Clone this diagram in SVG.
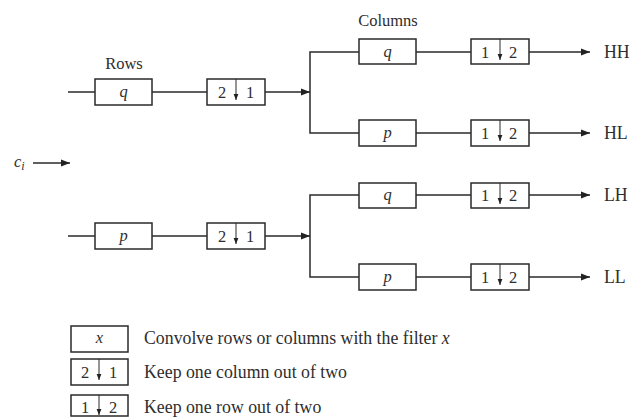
<svg xmlns="http://www.w3.org/2000/svg" width="640" height="417" viewBox="0 0 640 417">
<defs>
<marker id="ah" viewBox="0 0 10 10" refX="10" refY="5" markerWidth="9" markerHeight="9" markerUnits="userSpaceOnUse" orient="auto"><path d="M0,1 L10,5 L0,9 Z" fill="#222"/></marker>
<marker id="sa" viewBox="0 0 10 10" refX="10" refY="5" markerWidth="6" markerHeight="6" markerUnits="userSpaceOnUse" orient="auto"><path d="M0,1 L10,5 L0,9 Z" fill="#222"/></marker>
</defs>
<style>
.box{fill:#fff;stroke:#2a2a2a;stroke-width:1.5}
.ln{fill:none;stroke:#2a2a2a;stroke-width:1.5}
.dn{stroke:#2a2a2a;stroke-width:1}
text{font-family:"Liberation Serif","DejaVu Serif",serif;font-size:16.5px;fill:#2e2e2e}
.lg{font-size:17.8px}
.it{font-style:italic}
.c{text-anchor:middle}
</style>
<rect width="640" height="417" fill="#fff"/>
<text x="124" y="69" class="c">Rows</text>
<text x="388" y="26" class="c">Columns</text>
<g id="connectors">
<line class="ln" x1="68" y1="92" x2="95" y2="92"/>
<line class="ln" x1="152" y1="92" x2="207" y2="92"/>
<line class="ln" x1="265" y1="92" x2="310" y2="92" marker-end="url(#ah)"/>
<polyline class="ln" points="359,52 310,52 310,133 359,133"/>
<line class="ln" x1="416" y1="52" x2="471" y2="52"/>
<line class="ln" x1="529" y1="52" x2="590" y2="52" marker-end="url(#ah)"/>
<line class="ln" x1="416" y1="133" x2="471" y2="133"/>
<line class="ln" x1="529" y1="133" x2="590" y2="133" marker-end="url(#ah)"/>
<line class="ln" x1="33" y1="163" x2="70" y2="163" marker-end="url(#ah)"/>
<line class="ln" x1="68" y1="236" x2="95" y2="236"/>
<line class="ln" x1="152" y1="236" x2="207" y2="236"/>
<line class="ln" x1="265" y1="236" x2="310" y2="236" marker-end="url(#ah)"/>
<polyline class="ln" points="359,195 310,195 310,277 359,277"/>
<line class="ln" x1="416" y1="195" x2="471" y2="195"/>
<line class="ln" x1="529" y1="195" x2="590" y2="195" marker-end="url(#ah)"/>
<line class="ln" x1="416" y1="277" x2="471" y2="277"/>
<line class="ln" x1="529" y1="277" x2="590" y2="277" marker-end="url(#ah)"/>
</g>
<g id="ci"><text x="14" y="167" class="it">c<tspan font-size="12" dy="3">i</tspan></text></g>
<g id="row-q"><rect class="box" x="95" y="79" width="57" height="26"/><text x="123.5" y="97" class="c it">q</text></g>
<g id="row-ds1"><rect class="box" x="207" y="79" width="58" height="26"/><text x="222" y="98" class="c">2</text><text x="250" y="98" class="c">1</text><line class="dn" x1="236" y1="79" x2="236" y2="100" marker-end="url(#sa)"/></g>
<g id="row-p"><rect class="box" x="95" y="223" width="57" height="26"/><text x="123.5" y="241" class="c it">p</text></g>
<g id="row-ds2"><rect class="box" x="207" y="223" width="58" height="26"/><text x="222" y="242" class="c">2</text><text x="250" y="242" class="c">1</text><line class="dn" x1="236" y1="223" x2="236" y2="244" marker-end="url(#sa)"/></g>
<g id="col-q1"><rect class="box" x="359" y="39" width="57" height="25"/><text x="387.5" y="57" class="c it">q</text></g>
<g id="col-ds1"><rect class="box" x="471" y="39" width="58" height="25"/><text x="485" y="58" class="c">1</text><text x="513" y="58" class="c">2</text><line class="dn" x1="500" y1="39" x2="500" y2="60" marker-end="url(#sa)"/></g>
<g id="col-p1"><rect class="box" x="359" y="120" width="57" height="26"/><text x="387.5" y="138" class="c it">p</text></g>
<g id="col-ds2"><rect class="box" x="471" y="120" width="58" height="26"/><text x="485" y="139" class="c">1</text><text x="513" y="139" class="c">2</text><line class="dn" x1="500" y1="120" x2="500" y2="141" marker-end="url(#sa)"/></g>
<g id="col-q2"><rect class="box" x="359" y="183" width="57" height="25"/><text x="387.5" y="200" class="c it">q</text></g>
<g id="col-ds3"><rect class="box" x="471" y="183" width="58" height="25"/><text x="485" y="201" class="c">1</text><text x="513" y="201" class="c">2</text><line class="dn" x1="500" y1="183" x2="500" y2="204" marker-end="url(#sa)"/></g>
<g id="col-p2"><rect class="box" x="359" y="264" width="57" height="26"/><text x="387.5" y="282" class="c it">p</text></g>
<g id="col-ds4"><rect class="box" x="471" y="264" width="58" height="26"/><text x="485" y="283" class="c">1</text><text x="513" y="283" class="c">2</text><line class="dn" x1="500" y1="264" x2="500" y2="285" marker-end="url(#sa)"/></g>
<g id="out-HH"><text x="604" y="58" class="lg">HH</text></g>
<g id="out-HL"><text x="604" y="139" class="lg">HL</text></g>
<g id="out-LH"><text x="604" y="201" class="lg">LH</text></g>
<g id="out-LL"><text x="604" y="283" class="lg">LL</text></g>
<g id="legend">
<rect class="box" x="71" y="326" width="57" height="26"/><text x="99.5" y="343" class="c it">x</text>
<text x="144" y="344" class="lg">Convolve rows or columns with the filter <tspan class="it">x</tspan></text>
<rect class="box" x="71" y="359" width="57" height="26"/><text x="85" y="378" class="c">2</text><text x="113" y="378" class="c">1</text><line class="dn" x1="99" y1="359" x2="99" y2="380" marker-end="url(#sa)"/>
<text x="144" y="378" class="lg">Keep one column out of two</text>
<rect class="box" x="71" y="395" width="57" height="21"/><text x="85" y="413" class="c">1</text><text x="113" y="413" class="c">2</text><line class="dn" x1="99" y1="395" x2="99" y2="415" marker-end="url(#sa)"/>
<text x="144" y="413" class="lg">Keep one row out of two</text>
</g>
</svg>
